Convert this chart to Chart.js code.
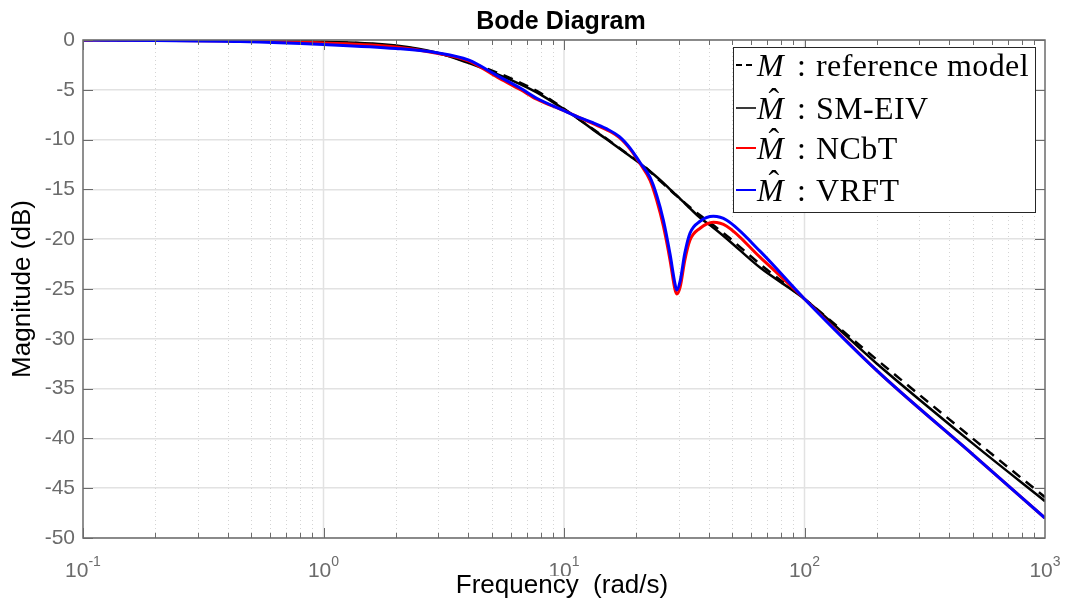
<!DOCTYPE html>
<html>
<head>
<meta charset="utf-8">
<title>Bode Diagram</title>
<script src="https://cdn.jsdelivr.net/npm/chart.js@4.4.1/dist/chart.umd.min.js"></script>
<style>
  body { margin: 0; background: #fff; }
  #wrap { position: relative; width: 1067px; height: 603px; }
  #legend {
    position: absolute; left: 733px; top: 47px; width: 303px; height: 166px;
    box-sizing: border-box; background: #fff; border: 1px solid #262626;
    font-family: "Liberation Serif", "Times New Roman", serif; font-size: 32px; color: #000;
  }
  .row { position: absolute; left: 0; width: 300px; height: 40px; white-space: nowrap; }
  .sample { position: absolute; left: 2px; top: 19px; width: 20px; height: 1.5px; }
  .dash { background: repeating-linear-gradient(to right, #000 0 6px, transparent 6px 10px); }
  .txt { position: absolute; left: 23px; top: 0; line-height: 40px; letter-spacing: 0.4px; }
  .m { font-style: italic; position: relative; display: inline-block; letter-spacing: 0; }
  .hat { position: absolute; left: 0.36em; top: -0.16em; line-height: 1; font-style: normal; }
  .c { margin: 0 0.3em 0 0.42em; }
</style>
</head>
<body>
<div id="wrap">
  <canvas id="bode" width="1067" height="603"></canvas>
  <div id="legend">
    <div class="row" style="top:-3px"><div class="sample dash"></div><span class="txt"><span class="m">M</span><span class="c">:</span>reference model</span></div>
    <div class="row" style="top:40px"><div class="sample" style="background:#3a3a3a"></div><span class="txt"><span class="m">M<span class="hat">ˆ</span></span><span class="c">:</span>SM-EIV</span></div>
    <div class="row" style="top:80px"><div class="sample" style="background:#ff0000"></div><span class="txt"><span class="m">M<span class="hat">ˆ</span></span><span class="c">:</span>NCbT</span></div>
    <div class="row" style="top:122px"><div class="sample" style="background:#0000ff"></div><span class="txt"><span class="m">M<span class="hat">ˆ</span></span><span class="c">:</span>VRFT</span></div>
  </div>
</div>
<script>
// frequency grid (rad/s) and magnitudes (dB)
const freq = [0.1, 0.2, 0.45, 1, 2, 3, 4, 5.3, 6.6, 7.7, 10, 11.6, 13.2, 15, 17, 18.9, 20.7, 22.8, 24.3, 25.9,
              27.6, 28.9, 29.4, 30.4, 31.8, 33.4, 36.8, 41.8, 47.5, 65.3, 100, 200, 500, 1000];
const refModel = [0, -0.01, -0.05, -0.2, -0.6, -1.35, -2.2, -3.3, -4.3, -5.1, -6.9, -8.0, -8.95, -9.9, -10.85, -11.65,
                  -12.3, -13.2, -13.85, -14.45, -15.05, -15.5, -15.65, -15.95, -16.35, -16.8, -17.6, -18.6, -19.65, -22.5,
                  -26.0, -32.1, -40.0, -45.9];
const smEiv = [0, 0, -0.04, -0.18, -0.55, -1.3, -2.3, -3.45, -4.45, -5.25, -6.95, -8.0, -9.0, -9.95, -10.9, -11.7,
               -12.4, -13.2, -13.75, -14.35, -15.0, -15.45, -15.6, -15.95, -16.4, -16.9, -17.85, -18.85, -19.95, -22.85,
               -26.0, -32.5, -40.5, -46.3];
const ncbt = [0, -0.03, -0.1, -0.3, -0.7, -1.35, -2.1, -3.75, -5.0, -5.95, -7.1, -7.8, -8.4, -9.0, -9.8, -11.0,
              -12.4, -14.1, -16.1, -18.7, -22.1, -25.0, -25.5, -24.8, -22.1, -20.1, -18.9, -18.3, -18.7, -21.8,
              -26.0, -33.2, -41.6, -48.0];
const vrft = [0, -0.05, -0.15, -0.45, -0.85, -1.3, -2.0, -3.6, -4.85, -5.85, -7.1, -7.8, -8.3, -8.9, -9.7, -10.9,
              -12.3, -13.8, -15.6, -18.1, -21.5, -24.4, -25.1, -24.2, -21.4, -19.4, -18.2, -17.7, -18.1, -21.2,
              -26.0, -33.2, -41.6, -48.0];
const decades = [-1, 0, 1, 2, 3];

const axisGray = '#6b6b6b';
const sans = '"Liberation Sans", Arial, sans-serif';

function pts(ys) {
    return freq.map((f, i) => ({ x: f, y: ys[i] }));
}

// gridlines, box, inward ticks, 10^n labels and titles, MATLAB style
const frame = {
    id: 'frame',
    beforeDatasetsDraw(chart) {
        const ctx = chart.ctx, a = chart.chartArea, x = chart.scales.x;
        ctx.save();
        ctx.lineWidth = 1;
        ctx.strokeStyle = '#d4d4d4';
        ctx.setLineDash([1, 3]);
        for (let p = -1; p < 3; p++) {
            for (let k = 2; k <= 9; k++) {
                const px = Math.round(x.getPixelForValue(k * Math.pow(10, p))) + 0.5;
                ctx.beginPath(); ctx.moveTo(px, a.top); ctx.lineTo(px, a.bottom); ctx.stroke();
            }
        }
        ctx.setLineDash([]);
        ctx.lineWidth = 1.5;
        ctx.strokeStyle = '#e2e2e2';
        for (let p = 0; p <= 2; p++) {
            const px = x.getPixelForValue(Math.pow(10, p));
            ctx.beginPath(); ctx.moveTo(px, a.top); ctx.lineTo(px, a.bottom); ctx.stroke();
        }
        ctx.restore();
    },
    afterDatasetsDraw(chart) {
        const ctx = chart.ctx, a = chart.chartArea, x = chart.scales.x, y = chart.scales.y;
        const cx = (a.left + a.right) / 2;
        ctx.save();
        ctx.strokeStyle = axisGray;
        ctx.lineWidth = 1.5;
        ctx.strokeRect(a.left, a.top, a.right - a.left, a.bottom - a.top);
        ctx.lineWidth = 1;
        for (let p = -1; p < 3; p++) {
            for (let k = 1; k <= 9; k++) {
                const px = Math.round(x.getPixelForValue(k * Math.pow(10, p))) + 0.5;
                const len = k === 1 ? 10 : 5;
                ctx.beginPath();
                ctx.moveTo(px, a.bottom); ctx.lineTo(px, a.bottom - len);
                ctx.moveTo(px, a.top); ctx.lineTo(px, a.top + len);
                ctx.stroke();
            }
        }
        y.ticks.forEach(t => {
            const py = Math.round(y.getPixelForValue(t.value)) + 0.5;
            ctx.beginPath();
            ctx.moveTo(a.left, py); ctx.lineTo(a.left + 10, py);
            ctx.moveTo(a.right, py); ctx.lineTo(a.right - 10, py);
            ctx.stroke();
        });

        // x tick labels 10^n
        ctx.fillStyle = axisGray;
        ctx.textBaseline = 'alphabetic';
        ctx.textAlign = 'left';
        decades.forEach(p => {
            const px = x.getPixelForValue(Math.pow(10, p));
            const exp = String(p);
            ctx.font = '21px ' + sans;
            const wBase = ctx.measureText('10').width;
            ctx.font = '14px ' + sans;
            const wExp = ctx.measureText(exp).width;
            const left = px - (wBase + wExp) / 2;
            ctx.font = '21px ' + sans;
            ctx.fillText('10', left, 577);
            ctx.font = '14px ' + sans;
            ctx.fillText(exp, left + wBase, 566);
        });

        // x label sits on a white box, as in the original
        ctx.font = '26px ' + sans;
        const xl = 'Frequency  (rad/s)';
        const wl = ctx.measureText(xl).width;
        ctx.fillStyle = '#fff';
        ctx.fillRect(cx - wl / 2 - 2, 576, wl + 4, 27);
        ctx.fillStyle = '#000';
        ctx.textAlign = 'center';
        ctx.fillText(xl, cx - 2, 593);

        // title centred over the axes
        ctx.font = 'bold 25px ' + sans;
        ctx.fillText('Bode Diagram', cx - 3, 29);
        ctx.restore();
    }
};

const ctx = document.getElementById('bode').getContext('2d');
const myChart = new Chart(ctx, {
    type: 'line',
    data: {
        datasets: [
            { label: 'M : reference model', data: pts(refModel), borderColor: '#000000', borderWidth: 2.5,
              borderDash: [10, 7], order: 3 },
            { label: 'M^ : SM-EIV', data: pts(smEiv), borderColor: '#000000', borderWidth: 2.5, order: 2 },
            { label: 'M^ : NCbT', data: pts(ncbt), borderColor: '#ff0000', borderWidth: 3, order: 1 },
            { label: 'M^ : VRFT', data: pts(vrft), borderColor: '#0000ff', borderWidth: 3, order: 0 }
        ]
    },
    options: {
        responsive: false,
        animation: false,
        devicePixelRatio: 1,
        layout: { padding: { top: 40, right: 22, bottom: 0, left: 0 } },
        elements: {
            point: { radius: 0, hoverRadius: 0 },
            line: { cubicInterpolationMode: 'monotone', fill: false }
        },
        plugins: {
            legend: { display: false },
            tooltip: { enabled: false },
            title: { display: false }
        },
        scales: {
            x: {
                type: 'logarithmic',
                min: 0.1,
                max: 1000,
                grid: { display: false },
                border: { display: false },
                ticks: { display: false },
                title: { display: false },
                afterFit(scale) { scale.height = 65; }
            },
            y: {
                min: -50,
                max: 0,
                ticks: {
                    stepSize: 5,
                    color: axisGray,
                    padding: 8,
                    font: { family: sans, size: 21 }
                },
                grid: { color: '#e2e2e2', lineWidth: 1.5, drawTicks: false },
                border: { display: false },
                title: {
                    display: true,
                    text: 'Magnitude (dB)',
                    color: '#000',
                    font: { family: sans, size: 26 },
                    padding: { top: 7, bottom: 0 }
                },
                afterFit(scale) { scale.width = 83; }
            }
        }
    },
    plugins: [frame]
});
</script>
</body>
</html>
